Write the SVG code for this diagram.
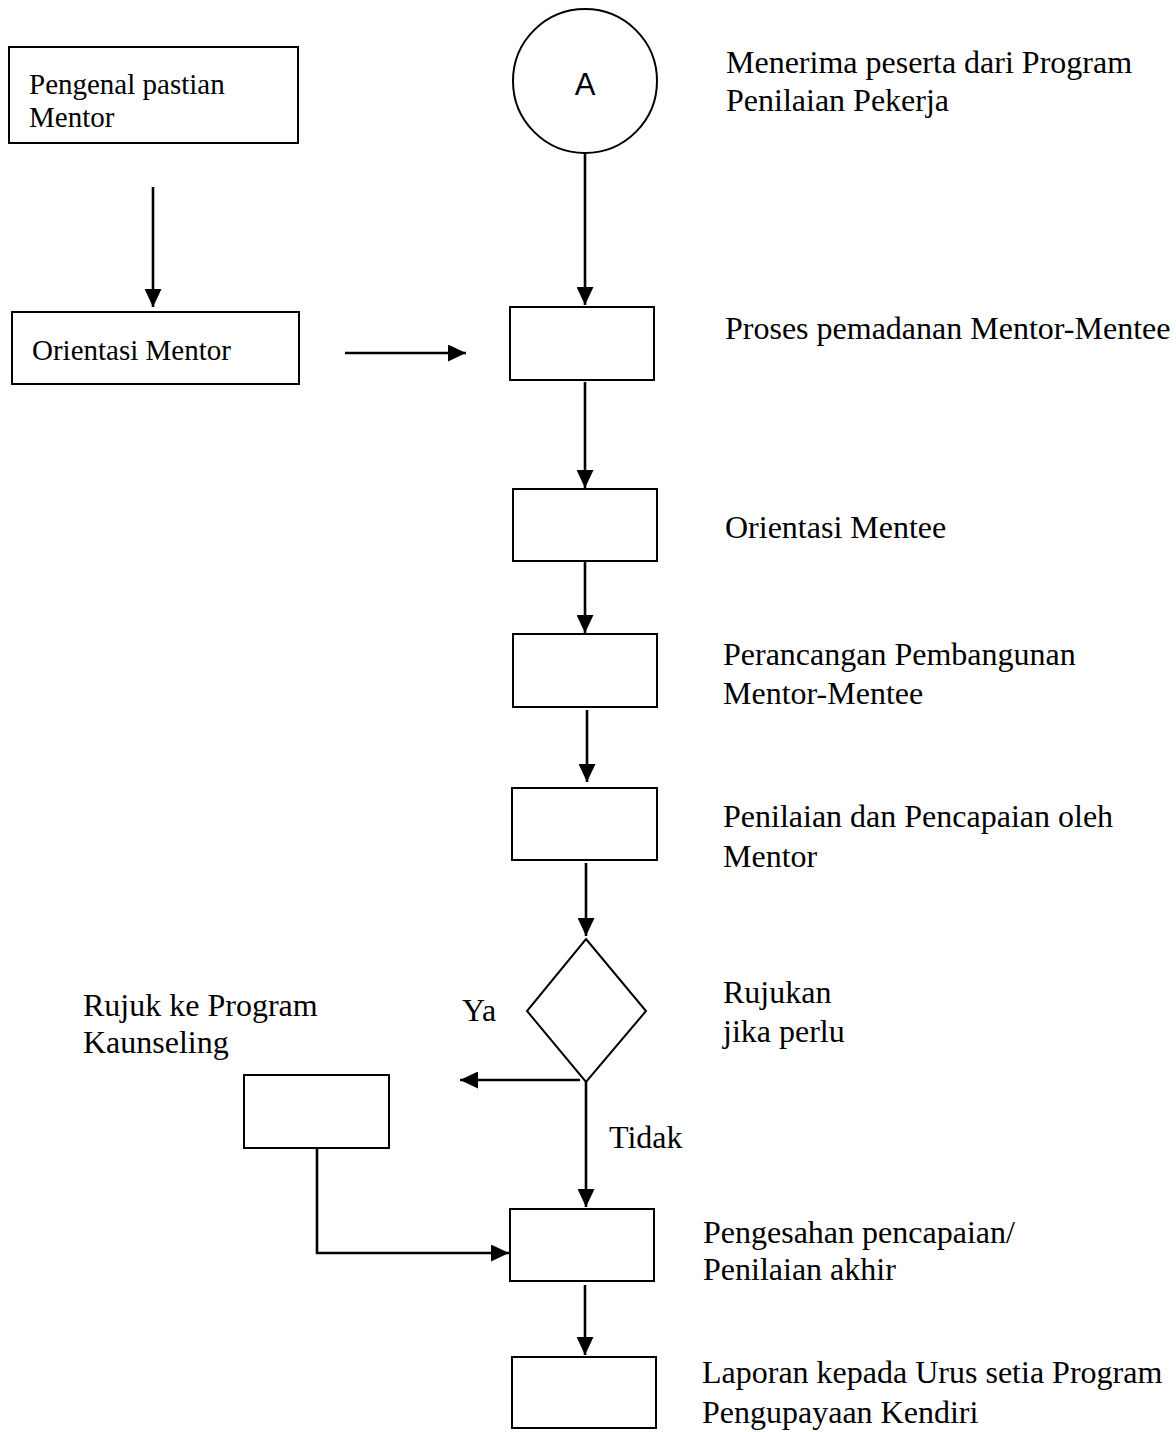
<svg xmlns="http://www.w3.org/2000/svg" width="1176" height="1432" viewBox="0 0 1176 1432">
  <style>
    .box { fill: #fff; stroke: #000; stroke-width: 2; }
    .wire { fill: none; stroke: #000; stroke-width: 2.6; }
    .lbl { font-family: "Liberation Serif", "Times New Roman", serif; font-size: 32px; fill: #000; }
    .inbox { font-family: "Liberation Serif", "Times New Roman", serif; font-size: 29px; fill: #000; }
    .sans { font-family: "Liberation Sans", Arial, sans-serif; font-size: 31px; fill: #000; }
  </style>
  <defs>
    <marker id="arrow" markerUnits="userSpaceOnUse" markerWidth="18" markerHeight="17" refX="18" refY="8.5" orient="auto">
      <path d="M0,0 L18,8.5 L0,17 z" fill="#000"/>
    </marker>
  </defs>
  <rect width="1176" height="1432" fill="#fff"/>

  <!-- connectors -->
  <g id="connectors">
    <line class="wire" x1="153" y1="187" x2="153" y2="307" marker-end="url(#arrow)"/>
    <line class="wire" x1="345" y1="353" x2="466" y2="353" marker-end="url(#arrow)"/>
    <line class="wire" x1="585" y1="153" x2="585" y2="305" marker-end="url(#arrow)"/>
    <line class="wire" x1="585" y1="382" x2="585" y2="488" marker-end="url(#arrow)"/>
    <line class="wire" x1="585" y1="561" x2="585" y2="633" marker-end="url(#arrow)"/>
    <line class="wire" x1="587" y1="710" x2="587" y2="782" marker-end="url(#arrow)"/>
    <line class="wire" x1="586" y1="863" x2="586" y2="936" marker-end="url(#arrow)"/>
    <line class="wire" x1="580" y1="1080" x2="460" y2="1080" marker-end="url(#arrow)"/>
    <line class="wire" x1="586" y1="1082" x2="586" y2="1207" marker-end="url(#arrow)"/>
    <polyline class="wire" points="317,1148 317,1253 509,1253" marker-end="url(#arrow)"/>
    <line class="wire" x1="585" y1="1285" x2="585" y2="1355" marker-end="url(#arrow)"/>
  </g>

  <!-- left column: mentor side -->
  <g id="node-pengenal">
    <rect class="box" x="9" y="47" width="289" height="96"/>
    <text class="inbox" x="29" y="94">Pengenal pastian</text>
    <text class="inbox" x="29" y="127">Mentor</text>
  </g>
  <g id="node-orientasi-mentor">
    <rect class="box" x="12" y="312" width="287" height="72"/>
    <text class="inbox" x="32" y="360">Orientasi Mentor</text>
  </g>

  <!-- main flow -->
  <g id="node-a">
    <circle class="box" cx="585" cy="81" r="72"/>
    <text class="sans" x="585" y="95" text-anchor="middle">A</text>
  </g>
  <g id="label-a">
    <text class="lbl" x="726" y="73">Menerima peserta dari Program</text>
    <text class="lbl" x="726" y="111">Penilaian Pekerja</text>
  </g>

  <g id="node-pemadanan">
    <rect class="box" x="510" y="307" width="144" height="73"/>
    <text class="lbl" x="725" y="339">Proses pemadanan Mentor-Mentee</text>
  </g>

  <g id="node-orientasi-mentee">
    <rect class="box" x="513" y="489" width="144" height="72"/>
    <text class="lbl" x="725" y="538">Orientasi Mentee</text>
  </g>

  <g id="node-perancangan">
    <rect class="box" x="513" y="634" width="144" height="73"/>
    <text class="lbl" x="723" y="665">Perancangan Pembangunan</text>
    <text class="lbl" x="723" y="704">Mentor-Mentee</text>
  </g>

  <g id="node-penilaian">
    <rect class="box" x="512" y="788" width="145" height="72"/>
    <text class="lbl" x="723" y="827">Penilaian dan Pencapaian oleh</text>
    <text class="lbl" x="723" y="867">Mentor</text>
  </g>

  <g id="node-rujukan">
    <polygon class="box" points="586,939 646,1011 586,1082 527,1011"/>
    <text class="lbl" x="723" y="1003">Rujukan</text>
    <text class="lbl" x="723" y="1042">jika perlu</text>
  </g>
  <g id="label-ya">
    <text class="lbl" x="462" y="1021">Ya</text>
  </g>
  <g id="label-tidak">
    <text class="lbl" x="609" y="1148">Tidak</text>
  </g>

  <g id="node-kaunseling">
    <rect class="box" x="244" y="1075" width="145" height="73"/>
    <text class="lbl" x="83" y="1016">Rujuk ke Program</text>
    <text class="lbl" x="83" y="1053">Kaunseling</text>
  </g>

  <g id="node-pengesahan">
    <rect class="box" x="510" y="1209" width="144" height="72"/>
    <text class="lbl" x="703" y="1243">Pengesahan pencapaian/</text>
    <text class="lbl" x="703" y="1280">Penilaian akhir</text>
  </g>

  <g id="node-laporan">
    <rect class="box" x="512" y="1357" width="144" height="71"/>
    <text class="lbl" x="702" y="1383">Laporan kepada Urus setia Program</text>
    <text class="lbl" x="702" y="1423">Pengupayaan Kendiri</text>
  </g>
</svg>
